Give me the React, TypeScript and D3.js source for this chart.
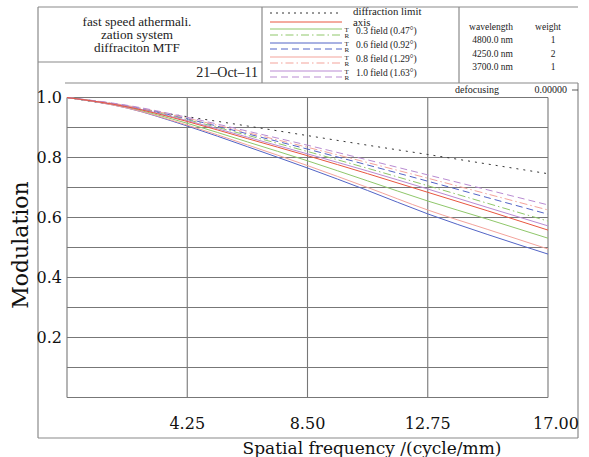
import React from 'react'
import * as d3 from 'd3'

// spatial frequency samples (cycle/mm)
const freq = [0, 2.125, 4.25, 6.375, 8.5, 10.625, 12.75, 14.875, 17]

// modulation
const diffLimit = [1.0, 0.968, 0.936, 0.905, 0.873, 0.841, 0.81, 0.778, 0.746]
const axisMtf = [1.0, 0.969, 0.92, 0.863, 0.806, 0.746, 0.684, 0.622, 0.558]
const f03T = [1.0, 0.967, 0.914, 0.852, 0.789, 0.722, 0.655, 0.594, 0.531]
const f03R = [1.0, 0.971, 0.926, 0.874, 0.82, 0.764, 0.706, 0.647, 0.588]
const f06T = [1.0, 0.965, 0.905, 0.836, 0.765, 0.69, 0.612, 0.543, 0.478]
const f06R = [1.0, 0.972, 0.929, 0.879, 0.828, 0.775, 0.721, 0.666, 0.611]
const f08T = [1.0, 0.965, 0.908, 0.842, 0.773, 0.7, 0.625, 0.56, 0.495]
const f08R = [1.0, 0.973, 0.931, 0.883, 0.834, 0.783, 0.731, 0.678, 0.625]
const f10T = [1.0, 0.97, 0.923, 0.868, 0.812, 0.755, 0.695, 0.633, 0.572]
const f10R = [1.0, 0.974, 0.934, 0.888, 0.841, 0.792, 0.742, 0.692, 0.642]

const fieldNames = ['0.3 field (0.47°)', '0.6 field (0.92°)', '0.8 field (1.29°)', '1.0 field (1.63°)']
const fieldColors = ['#8fc76a', '#5264c6', '#f3a39b', '#b98bd2']
const fieldT = [f03T, f06T, f08T, f10T]
const fieldR = [f03R, f06R, f08R, f10R]
const fieldRDash = ['8,3,1.5,3', '7,4', '8,3,1.5,3', '7,4']

const xTicks = [4.25, 8.5, 12.75, 17]
const yGrid = [0, 0.1, 0.2, 0.3, 0.4, 0.5, 0.6, 0.7, 0.8, 0.9, 1.0]
const yLabels = [1.0, 0.8, 0.6, 0.4, 0.2]

const wavelengths = ['4800.0 nm', '4250.0 nm', '3700.0 nm']
const weights = ['1', '2', '1']
const titleLines = ['fast speed athermali.', 'zation system', 'diffraciton MTF']

const serif = 'Liberation Serif, Times New Roman, serif'
const bigSerif = 'DejaVu Serif, serif'
const frame = '#8a8a8a'

export default function App() {
  const x = d3.scaleLinear().domain([0, 17]).range([67, 548])
  const y = d3.scaleLinear().domain([0, 1]).range([397.5, 97.5])

  const line = (vals: number[]) =>
    d3.line<number>()
      .x((_, i) => x(freq[i]))
      .y(d => y(d))
      .curve(d3.curveMonotoneX)(vals) || ''

  return (
    <svg width={589} height={457} style={{ position: 'absolute', left: 0, top: 0, background: '#fff' }}>
      <rect width={589} height={457} fill="#fff" />

      {/* outer frame and header */}
      <g stroke={frame} strokeWidth={1.2} fill="none">
        <line x1={38} y1={7} x2={578} y2={7} />
        <line x1={38} y1={7} x2={38} y2={438} />
        <line x1={38} y1={438} x2={578} y2={438} />
        <line x1={578} y1={83} x2={578} y2={438} />
        <line x1={262} y1={7} x2={262} y2={83} />
        <line x1={459} y1={7} x2={459} y2={83} />
        <line x1={38} y1={62} x2={262} y2={62} />
        <line x1={65} y1={83} x2={578} y2={83} />
      </g>

      {titleLines.map((t, i) => (
        <text key={t} x={137} y={25.5 + i * 13.3} textAnchor="middle" fontFamily={serif} fontSize={13.2} fill="#222">{t}</text>
      ))}
      <text x={258} y={77} textAnchor="end" fontFamily={serif} fontSize={14} fill="#222">21–Oct–11</text>

      {/* legend */}
      <line x1={270} x2={342} y1={13} y2={13} stroke="#333" strokeDasharray="2,4" />
      <text x={353} y={14.5} fontFamily={serif} fontSize={10.8} fill="#222">diffraction limit</text>
      <line x1={270} x2={342} y1={22} y2={22} stroke="#e8563f" />
      <text x={353} y={26} fontFamily={serif} fontSize={10.8} fill="#222">axis</text>
      {fieldNames.map((name, i) => {
        const y0 = 29 + i * 14
        return (
          <g key={name}>
            <line x1={270} x2={342} y1={y0} y2={y0} stroke={fieldColors[i]} />
            <line x1={270} x2={342} y1={y0 + 6} y2={y0 + 6} stroke={fieldColors[i]} strokeDasharray={fieldRDash[i]} />
            <text x={344.5} y={y0 + 2.5} fontFamily={serif} fontSize={7} fill="#222">T</text>
            <text x={344.5} y={y0 + 9} fontFamily={serif} fontSize={7} fill="#222">R</text>
            <text x={356} y={y0 + 5} fontFamily={serif} fontSize={9.5} fill="#222">{name}</text>
          </g>
        )
      })}

      {/* wavelengths */}
      <text x={491} y={30} textAnchor="middle" fontFamily={serif} fontSize={9.5} fill="#222">wavelength</text>
      <text x={548} y={30} textAnchor="middle" fontFamily={serif} fontSize={9.5} fill="#222">weight</text>
      {wavelengths.map((w, i) => (
        <g key={w}>
          <text x={513} y={43 + i * 13.5} textAnchor="end" fontFamily={serif} fontSize={9.5} fill="#222">{w}</text>
          <text x={553} y={43 + i * 13.5} textAnchor="middle" fontFamily={serif} fontSize={9.5} fill="#222">{weights[i]}</text>
        </g>
      ))}
      <text x={477} y={93} textAnchor="middle" fontFamily={serif} fontSize={10} fill="#222">defocusing</text>
      <text x={567} y={93} textAnchor="end" fontFamily={serif} fontSize={10} fill="#222">0.00000</text>
      <line x1={572} x2={578} y1={90} y2={90} stroke="#333" strokeWidth={0.8} />

      {/* grid */}
      <g stroke="#777" strokeWidth={1.1}>
        {yGrid.map(v => (
          <line key={v} x1={x(0)} x2={x(17)} y1={y(v)} y2={y(v)} />
        ))}
        {xTicks.map(v => (
          <line key={v} x1={x(v)} x2={x(v)} y1={y(0)} y2={y(1)} />
        ))}
        <line x1={x(0)} x2={x(0)} y1={y(0)} y2={y(1)} />
      </g>

      {/* curves */}
      <g fill="none" strokeWidth={1}>
        <path d={line(diffLimit)} stroke="#333" strokeDasharray="2,5" />
        {fieldR.map((vals, i) => (
          <path key={'r' + i} d={line(vals)} stroke={fieldColors[i]} strokeDasharray={fieldRDash[i]} />
        ))}
        {fieldT.map((vals, i) => (
          <path key={'t' + i} d={line(vals)} stroke={fieldColors[i]} />
        ))}
        <path d={line(axisMtf)} stroke="#e8563f" />
      </g>

      {/* tick labels */}
      {yLabels.map(v => (
        <text key={v} x={62} y={y(v)} dy="0.36em" textAnchor="end" fontFamily={bigSerif} fontSize={16} fill="#111">{d3.format('.1f')(v)}</text>
      ))}
      {xTicks.map(v => (
        <text key={v} x={x(v) + (v === 17 ? 8 : 0)} y={429} textAnchor="middle" fontFamily={bigSerif} fontSize={16} fill="#111">{d3.format('.2f')(v)}</text>
      ))}

      <text x={372} y={454} textAnchor="middle" fontFamily={bigSerif} fontSize={17} fill="#111">Spatial frequency /(cycle/mm)</text>
      <text transform="translate(28,245) rotate(-90)" textAnchor="middle" fontFamily={bigSerif} fontSize={22} fill="#111">Modulation</text>
    </svg>
  )
}
